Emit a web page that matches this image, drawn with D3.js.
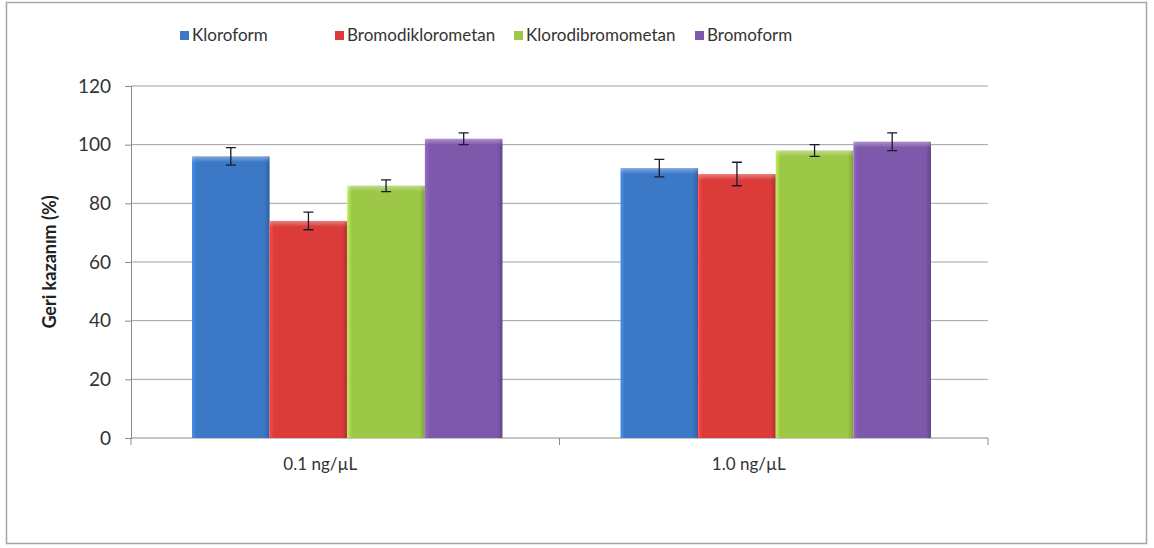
<!DOCTYPE html>
<html><head><meta charset="utf-8">
<script src="https://cdn.jsdelivr.net/npm/d3@7"></script>
<style>body{margin:0;background:#fff}svg{display:block}</style>
</head><body><svg id="c" width="1154" height="548"></svg>
<script>
const categories = ["0.1 ng/µL", "1.0 ng/µL"];
const seriesNames = ["Kloroform", "Bromodiklorometan", "Klorodibromometan", "Bromoform"];
const kloroform = [96, 92];
const bromodiklorometan = [74, 90];
const klorodibromometan = [86, 98];
const bromoform = [102, 101];
const kloroformErr = [3, 3];
const bromodiklorometanErr = [3, 4];
const klorodibromometanErr = [2, 2];
const bromoformErr = [2, 3];
const yTicks = [0, 20, 40, 60, 80, 100, 120];
const colors = ["#3b78c6", "#db3c3a", "#9dc747", "#7e58ab"];

const values = [kloroform, bromodiklorometan, klorodibromometan, bromoform];
const errs = [kloroformErr, bromodiklorometanErr, klorodibromometanErr, bromoformErr];

const svg = d3.select("#c");
const font = "Lato, 'Open Sans', sans-serif";
svg.append("rect").attr("x", 6.5).attr("y", 2.5).attr("width", 1140).attr("height", 541)
  .attr("fill", "#fff").attr("stroke", "#a6a6a6").attr("stroke-width", 1.5);

const pL = 131, pR = 988, pT = 86, pB = 438;
const y = d3.scaleLinear().domain([0, 120]).range([pB, pT]);
const x0 = d3.scaleBand().domain(categories).range([pL, pR]).paddingInner(0).paddingOuter(0);
const x1 = d3.scaleBand().domain(seriesNames).range([61, x0.bandwidth() - 57]).padding(0);

const defs = svg.append("defs");
colors.forEach((c, i) => {
  const g = defs.append("linearGradient").attr("id", "g" + i).attr("x1", 0).attr("x2", 1).attr("y1", 0).attr("y2", 0);
  const base = d3.color(c);
  g.append("stop").attr("offset", "0%").attr("stop-color", base.brighter(0.5));
  g.append("stop").attr("offset", "6%").attr("stop-color", c);
  g.append("stop").attr("offset", "93%").attr("stop-color", c);
  g.append("stop").attr("offset", "100%").attr("stop-color", base.darker(0.6));
  const gv = defs.append("linearGradient").attr("id", "v" + i).attr("x1", 0).attr("x2", 0).attr("y1", 0).attr("y2", 1);
  gv.append("stop").attr("offset", "0%").attr("stop-color", "#fff").attr("stop-opacity", 0.35);
  gv.append("stop").attr("offset", "100%").attr("stop-color", "#fff").attr("stop-opacity", 0);
});

// gridlines
svg.append("g").selectAll("line").data(yTicks.filter(d => d > 0)).join("line")
  .attr("x1", pL).attr("x2", pR).attr("y1", d => y(d)).attr("y2", d => y(d))
  .attr("stroke", "#a0a0a0").attr("stroke-width", 1);

// y axis
const yAxis = d3.axisLeft(y).tickValues(yTicks).tickSize(6).tickPadding(14);
const ya = svg.append("g").attr("transform", `translate(${pL},0)`).call(yAxis);
ya.select(".domain").attr("stroke", "#8a8a8a");
ya.selectAll(".tick line").attr("stroke", "#8a8a8a");
ya.selectAll("text").attr("font-family", font).attr("font-size", 19).attr("fill", "#333");

// x axis
const xa = svg.append("g").attr("transform", `translate(0,${pB})`)
  .call(d3.axisBottom(x0).tickSize(0).tickPadding(20));
xa.select(".domain").attr("stroke", "#8a8a8a").attr("d", `M${pL},0H${pR}`);
xa.selectAll("text").attr("font-family", font).attr("font-size", 17).attr("fill", "#333").attr("dx", -25);
svg.append("g").selectAll("line").data([pL, pL + x0.bandwidth(), pR]).join("line")
  .attr("x1", d => d).attr("x2", d => d).attr("y1", pB).attr("y2", pB + 7)
  .attr("stroke", "#8a8a8a");

// bars
const groups = svg.append("g").selectAll("g").data(categories).join("g")
  .attr("transform", d => `translate(${x0(d)},0)`);
seriesNames.forEach((s, i) => {
  groups.append("rect").attr("x", x1(s)).attr("width", x1.bandwidth())
    .attr("y", (d, j) => y(values[i][j])).attr("height", (d, j) => pB - y(values[i][j]))
    .attr("fill", `url(#g${i})`);
  groups.append("rect").attr("x", x1(s)).attr("width", x1.bandwidth())
    .attr("y", (d, j) => y(values[i][j])).attr("height", 6)
    .attr("fill", `url(#v${i})`);
  const cx = x1(s) + x1.bandwidth() / 2;
  groups.append("path")
    .attr("d", (d, j) => {
      const hi = y(values[i][j] + errs[i][j]), lo = y(values[i][j] - errs[i][j]);
      return `M${cx},${hi}V${lo}M${cx - 5},${hi}H${cx + 5}M${cx - 5},${lo}H${cx + 5}`;
    })
    .attr("stroke", "#1a1a2a").attr("stroke-width", 1.3).attr("fill", "none");
});

// legend
const legX = [180, 335, 514, 695];
const leg = svg.append("g");
seriesNames.forEach((s, i) => {
  leg.append("rect").attr("x", legX[i]).attr("y", 31).attr("width", 9).attr("height", 9).attr("fill", colors[i]);
  leg.append("text").attr("x", legX[i] + 12).attr("y", 41).text(s)
    .attr("font-family", font).attr("font-size", 17).attr("fill", "#333");
});

// y title
svg.append("text").attr("transform", `translate(56,${(pT + pB) / 2}) rotate(-90)`)
  .attr("text-anchor", "middle").attr("font-family", font).attr("font-size", 18).attr("font-weight", "bold")
  .attr("fill", "#222").text("Geri kazanım (%)");
</script></body></html>
